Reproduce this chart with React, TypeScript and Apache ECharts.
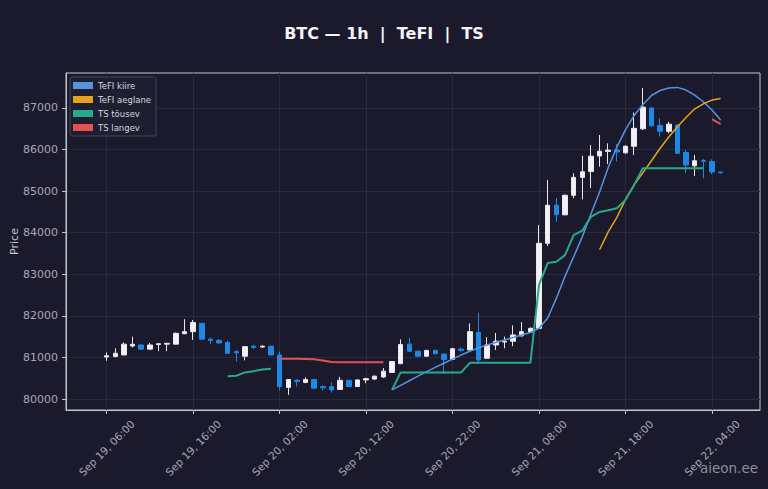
import { useEffect, useRef } from 'react';
import * as echarts from 'echarts';

// hours are counted from Sep 19, 00:00
const CANDLE_START = 6; // Sep 19, 06:00

// [open, close, low, high], one per hour
const candles = [
  [81010, 81040, 80920, 81120],
  [81020, 81100, 81010, 81220],
  [81060, 81320, 81050, 81360],
  [81275, 81315, 81240, 81500],
  [81300, 81200, 81190, 81320],
  [81200, 81300, 81190, 81350],
  [81310, 81330, 81150, 81345],
  [81320, 81340, 81150, 81350],
  [81320, 81580, 81310, 81600],
  [81570, 81620, 81560, 81920],
  [81620, 81840, 81420, 81900],
  [81820, 81440, 81430, 81830],
  [81440, 81410, 81320, 81480],
  [81410, 81350, 81330, 81440],
  [81360, 81100, 81080, 81400],
  [81140, 81110, 80900, 81170],
  [81030, 81260, 80930, 81270],
  [81270, 81240, 81200, 81300],
  // Sep 20
  [81250, 81270, 81230, 81290],
  [81270, 81060, 81040, 81280],
  [81060, 80300, 80210, 81140],
  [80280, 80470, 80100, 80480],
  [80450, 80420, 80300, 80480],
  [80400, 80470, 80380, 80520],
  [80470, 80260, 80240, 80480],
  [80300, 80270, 80200, 80330],
  [80300, 80220, 80150, 80400],
  [80230, 80450, 80220, 80535],
  [80450, 80300, 80290, 80460],
  [80300, 80460, 80290, 80470],
  [80460, 80490, 80380, 80510],
  [80480, 80550, 80460, 80560],
  [80530, 80670, 80510, 80745],
  [80640, 80900, 80630, 80910],
  [80850, 81310, 80840, 81435],
  [81320, 81150, 81130, 81470],
  [81150, 81030, 81010, 81160],
  [81030, 81170, 81020, 81180],
  [81170, 81090, 81070, 81190],
  [81080, 80950, 80610, 81090],
  [80950, 81210, 80940, 81230],
  [81200, 81170, 81140, 81240],
  // Sep 21
  [81180, 81620, 81170, 81820],
  [81600, 80940, 80890, 82080],
  [80980, 81300, 80970, 81490],
  [81300, 81390, 81180, 81590],
  [81370, 81390, 81220, 81500],
  [81390, 81540, 81270, 81770],
  [81520, 81620, 81500, 81850],
  [81610, 81700, 81590, 81720],
  [81700, 83745, 81690, 84185],
  [83745, 84660, 83680, 85270],
  [84660, 84430, 84260, 84835],
  [84430, 84900, 84420, 84920],
  [84900, 85330, 84830, 85430],
  [85330, 85465, 84800, 85850],
  [85470, 85840, 85075, 86110],
  [85845, 85960, 85590, 86350],
  [85955, 85985, 85650, 86150],
  [85990, 85940, 85710, 86130],
  [85920, 86080, 85900, 86100],
  [86080, 86510, 85870, 86890],
  [86500, 87020, 86470, 87480],
  [87000, 86570, 86560, 87020],
  [86580, 86440, 86315, 86750],
  [86440, 86610, 86390, 86670],
  // Sep 22
  [86590, 85910, 85900, 86600],
  [85930, 85630, 85430, 85990],
  [85610, 85730, 85365, 85870],
  [85740, 85720, 85310, 85770],
  [85710, 85460, 85410, 85765],
  [85460, 85440, 85430, 85470],
];

// TeFI kiire, from Sep 20 15:00
const fastStart = 39;
const fastValues = [
  80220, 80330, 80440, 80550, 80660, 80760, 80860, 80960, 81060,
  81150, 81230, 81300, 81360, 81420, 81480, 81540, 81600, 81700, 81950,
  82420, 82950, 83420, 83900, 84450, 84980, 85570, 86060, 86480, 86820,
  87080, 87300, 87420, 87480, 87495, 87430, 87310, 87150, 86950, 86710,
];

// TeFI aeglane, from Sep 21 15:00
const slowStart = 63;
const slowValues = [
  83590, 84020, 84370, 84800, 85150, 85440, 85730, 86030, 86300,
  86550, 86770, 86980, 87100, 87190, 87230,
];

// TS tõusev, two pieces
const upStartA = 20;
const upValuesA = [80550, 80560, 80640, 80670, 80710, 80730];
const upStartB = 39;
const upValuesB = [
  80220, 80640, 80640, 80640, 80640, 80640, 80640, 80640, 80640,
  80870, 80870, 80870, 80870, 80870, 80870, 80870, 80870,
  82750, 83270, 83300, 83460, 83940, 84050, 84380, 84500, 84540,
  84590, 84790, 85150, 85550, 85550, 85550, 85550, 85550, 85550,
  85550, 85550,
];

// TS langev, two pieces
const downStartA = 26;
const downValuesA = [
  80970, 80970, 80970, 80965, 80955, 80925, 80890, 80885, 80885,
  80885, 80885, 80885, 80885,
];
const downStartB = 76;
const downValuesB = [86730, 86610];

const xTicks = [6, 16, 26, 36, 46, 56, 66, 76];
const yTicks = [80000, 81000, 82000, 83000, 84000, 85000, 86000, 87000];

const BG = '#1a1a2c';
const GRID = '#2a2a3f';
const FRAME = '#c4c4cf';
const LABEL = '#a9a9b6';
const FONT = 'DejaVu Sans';

const hourLabel = (h: number) => {
  const day = 19 + Math.floor(h / 24);
  const hh = String(Math.round(h) % 24).padStart(2, '0');
  return `Sep ${day}, ${hh}:00`;
};

const piece = (start: number, values: number[]) => values.map((v, i) => [start + i, v]);
const pieces = (...parts: number[][][]) => {
  const out: any[] = [];
  parts.forEach((p, i) => {
    if (i > 0) out.push([p[0][0] - 0.5, '-']);
    out.push(...p);
  });
  return out;
};

const lineSeries = (name: string, color: string, width: number, data: any[]) => ({
  name,
  type: 'line',
  data,
  color,
  showSymbol: false,
  symbol: 'none',
  connectNulls: false,
  lineStyle: { color, width },
  itemStyle: { color },
  z: 3,
});

export default function App() {
  const ref = useRef<HTMLDivElement>(null);

  useEffect(() => {
    document.body.style.margin = '0';
    document.body.style.background = BG;
    if (!ref.current) return;
    const chart = echarts.init(ref.current, undefined, { renderer: 'svg' });

    chart.setOption({
      animation: false,
      backgroundColor: BG,
      textStyle: { fontFamily: FONT },
      title: {
        text: 'BTC — 1h  |  TeFI  |  TS',
        left: 'center',
        top: 24,
        padding: 0,
        textStyle: { color: '#f4f4f6', fontSize: 16, fontWeight: 'bold', fontFamily: FONT, lineHeight: 18 },
      },
      legend: {
        left: 70,
        top: 77,
        orient: 'vertical',
        icon: 'rect',
        itemWidth: 20,
        itemHeight: 7,
        itemGap: 3,
        padding: [3, 5, 3, 3],
        backgroundColor: '#1e1e31',
        borderColor: '#46465a',
        borderWidth: 1,
        borderRadius: 2,
        textStyle: { color: '#d6d6de', fontSize: 8.5, lineHeight: 11, fontFamily: FONT },
        data: ['TeFI kiire', 'TeFI aeglane', 'TS tõusev', 'TS langev'],
      },
      grid: {
        left: 66,
        right: 8,
        top: 73,
        bottom: 79,
        outerBoundsMode: 'none',
        containLabel: false,
        show: true,
        backgroundColor: BG,
        borderColor: FRAME,
        borderWidth: 1,
      },
      xAxis: {
        type: 'value',
        min: 1.3,
        max: 81.55,
        axisLine: { show: true, onZero: false, lineStyle: { color: FRAME } },
        axisTick: { show: true, length: 4, customValues: xTicks, lineStyle: { color: FRAME } },
        axisLabel: {
          customValues: xTicks,
          formatter: (v: number) => hourLabel(v),
          rotate: 45,
          align: 'center',
          verticalAlign: 'middle',
          margin: 38,
          color: LABEL,
          fontSize: 10.5,
          fontFamily: FONT,
        },
        splitLine: { show: true, lineStyle: { color: GRID, width: 1 } },
      },
      yAxis: {
        type: 'value',
        min: 79736,
        max: 87841,
        name: 'Price',
        nameLocation: 'middle',
        nameGap: 46,
        nameMoveOverlap: false,
        nameTextStyle: { color: '#c4c4ce', fontSize: 11, fontFamily: FONT },
        axisLine: { show: true, lineStyle: { color: FRAME } },
        axisTick: { show: true, length: 4, customValues: yTicks, lineStyle: { color: FRAME } },
        axisLabel: {
          customValues: yTicks,
          formatter: (v: number) => String(Math.round(v)),
          margin: 8,
          color: LABEL,
          fontSize: 11,
          fontFamily: FONT,
        },
        splitLine: { show: true, lineStyle: { color: GRID, width: 1 } },
      },
      series: [
        {
          name: 'BTC',
          type: 'candlestick',
          data: candles.map((c, i) => [CANDLE_START + i, ...c]),
          barWidth: 5,
          itemStyle: {
            color: '#f2f2f4',
            color0: '#1e88e5',
            borderColor: '#e8e8ee',
            borderColor0: '#1e88e5',
            borderWidth: 1,
          },
          z: 2,
        },
        lineSeries('TeFI kiire', '#5595e0', 1.5, piece(fastStart, fastValues)),
        lineSeries('TeFI aeglane', '#e6a21c', 1.5, piece(slowStart, slowValues)),
        lineSeries('TS tõusev', '#27a98b', 2, pieces(piece(upStartA, upValuesA), piece(upStartB, upValuesB))),
        lineSeries('TS langev', '#e25252', 2, pieces(piece(downStartA, downValuesA), piece(downStartB, downValuesB))),
      ],
      graphic: [
        {
          type: 'text',
          right: 10,
          top: 461,
          style: { text: 'aieon.ee', fill: '#8e8e9c', fontSize: 13.5, fontFamily: FONT },
          z: 10,
        },
      ],
    });

    return () => chart.dispose();
  }, []);

  return <div ref={ref} style={{ width: 768, height: 489 }} />;
}
